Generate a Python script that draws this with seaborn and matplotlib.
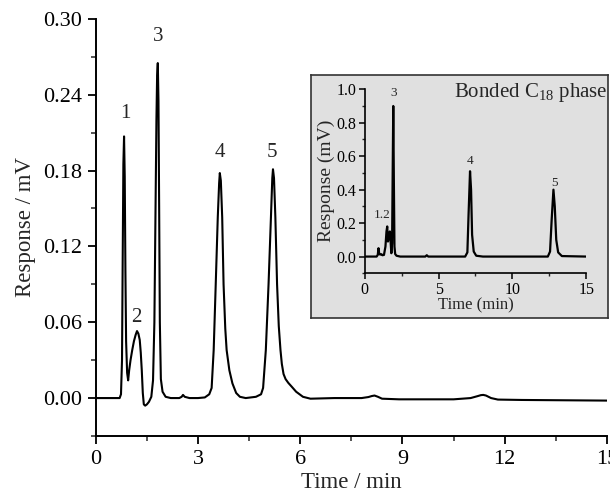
import matplotlib
matplotlib.use("Agg")
import matplotlib.pyplot as plt
import pandas as pd
import seaborn as sns

# main chromatogram (time in min, response in mV)
main_time = [
    0.00, 0.50, 0.70, 0.74, 0.77, 0.79, 0.81, 0.83, 0.85, 0.87, 0.89, 0.92, 0.95,
    0.98, 1.02, 1.07, 1.12, 1.17, 1.21, 1.25, 1.29, 1.32, 1.35, 1.38, 1.41, 1.45,
    1.50, 1.56, 1.63, 1.68, 1.72, 1.75, 1.78, 1.80, 1.82, 1.84, 1.86, 1.88, 1.91,
    1.96, 2.05, 2.20, 2.45, 2.52, 2.56, 2.61, 2.75, 3.00, 3.20, 3.33, 3.40, 3.46,
    3.52, 3.58, 3.62, 3.64, 3.67, 3.71, 3.75, 3.80, 3.84, 3.92, 4.01, 4.12, 4.23,
    4.40, 4.70, 4.85, 4.91, 4.99, 5.07, 5.14, 5.18, 5.20, 5.23, 5.27, 5.32, 5.37,
    5.42, 5.46, 5.51, 5.57, 5.65, 5.75, 5.88, 6.08, 6.30, 7.00, 7.80, 8.00, 8.10,
    8.18, 8.28, 8.40, 8.90, 10.50, 11.00, 11.20, 11.30, 11.37, 11.45, 11.60, 11.80,
    12.50, 15.00,
]
main_resp = [
    0.000, 0.000, 0.000, 0.003, 0.030, 0.110, 0.185, 0.207, 0.175, 0.100, 0.045, 0.020, 0.014,
    0.022, 0.030, 0.038, 0.045, 0.050, 0.053, 0.051, 0.046, 0.036, 0.022, 0.004, -0.005, -0.006,
    -0.005, -0.003, 0.001, 0.014, 0.060, 0.140, 0.220, 0.255, 0.265, 0.235, 0.150, 0.060, 0.015,
    0.005, 0.001, 0.000, 0.000, 0.001, 0.0025, 0.001, 0.000, 0.000, 0.0005, 0.003, 0.008, 0.038,
    0.090, 0.143, 0.170, 0.178, 0.172, 0.143, 0.090, 0.055, 0.038, 0.022, 0.0116, 0.004, 0.001,
    0.000, 0.001, 0.003, 0.008, 0.038, 0.090, 0.143, 0.174, 0.181, 0.174, 0.143, 0.090, 0.057,
    0.038, 0.027, 0.019, 0.015, 0.012, 0.009, 0.005, 0.001, -0.0005, 0.000, 0.000, 0.0008, 0.0016,
    0.002, 0.001, -0.0005, -0.001, -0.001, 0.000, 0.0015, 0.0023, 0.0025, 0.002, 0.000, -0.0012,
    -0.0015, -0.002,
]

# inset chromatogram (bonded C18 phase)
inset_time = [
    0.00, 0.80, 0.88, 0.93, 0.98, 1.05, 1.13, 1.20, 1.30, 1.40, 1.47, 1.52, 1.57,
    1.62, 1.70, 1.75, 1.80, 1.85, 1.89, 1.93, 1.97, 2.01, 2.06, 2.15, 2.40, 4.10,
    4.20, 4.30, 6.80, 6.95, 7.03, 7.13, 7.20, 7.27, 7.38, 7.55, 8.00, 12.40, 12.55,
    12.66, 12.78, 12.87, 12.97, 13.10, 13.35, 15.00,
]
inset_resp = [
    0.00, 0.00, 0.01, 0.05, 0.015, 0.012, 0.014, 0.008, 0.010, 0.060, 0.150, 0.180, 0.090,
    0.110, 0.150, 0.090, 0.020, 0.080, 0.500, 0.900, 0.450, 0.060, 0.015, 0.005, 0.000, 0.000,
    0.008, 0.000, 0.000, 0.025, 0.250, 0.510, 0.400, 0.130, 0.030, 0.005, 0.000, 0.000, 0.030,
    0.220, 0.400, 0.300, 0.100, 0.025, 0.003, 0.000,
]

main_peak_labels = ["1", "2", "3", "4", "5"]
main_label_time = [0.87, 1.19, 1.83, 3.64, 5.16]
main_label_resp = [0.225, 0.064, 0.286, 0.194, 0.194]

inset_peak_labels = ["1.2", "3", "4", "5"]
inset_label_time = [1.15, 1.98, 7.15, 12.85]
inset_label_resp = [0.25, 0.98, 0.57, 0.44]

sns.set_theme(style="ticks")
plt.rcParams["font.family"] = ["Liberation Serif", "DejaVu Serif"]
plt.rcParams["mathtext.fontset"] = "custom"
plt.rcParams["mathtext.rm"] = "Liberation Serif"

fig = plt.figure(figsize=(6.1, 4.96), dpi=100)
ax = fig.add_axes([0.157, 0.121, 0.838, 0.841])

main_df = pd.DataFrame({"time": main_time, "resp": main_resp})
sns.lineplot(data=main_df, x="time", y="resp", ax=ax, color="black",
             linewidth=1.5, estimator=None, sort=False)
ax.set_xlim(0, 15)
ax.set_ylim(-0.03, 0.30)
ax.set_xticks([0, 3, 6, 9, 12, 15])
ax.set_xticks([1.5, 4.5, 7.5, 10.5, 13.5], minor=True)
ax.set_yticks([0.0, 0.06, 0.12, 0.18, 0.24, 0.30])
ax.set_yticks([-0.03, 0.03, 0.09, 0.15, 0.21, 0.27], minor=True)
ax.set_yticklabels([f"{v:.2f}" for v in [0.0, 0.06, 0.12, 0.18, 0.24, 0.30]])
ax.tick_params(which="major", direction="out", length=6, width=1.3,
               labelsize=16, colors="black", pad=4)
ax.tick_params(which="minor", direction="out", length=3.5, width=1.1)
for side in ["left", "bottom"]:
    ax.spines[side].set_linewidth(1.4)
    ax.spines[side].set_color("black")
sns.despine(ax=ax)
ax.set_xlabel("Time / min", fontsize=16.5, labelpad=2)
ax.set_ylabel("Response / mV", fontsize=16.5, labelpad=5)
for lab, t, r in zip(main_peak_labels, main_label_time, main_label_resp):
    ax.text(t, r, lab, fontsize=15, ha="center", va="center")

# grey panel behind the inset
panel = fig.add_axes([0.51, 0.359, 0.487, 0.49], zorder=2)
panel.set_facecolor("#e0e0e0")
panel.set_xticks([])
panel.set_yticks([])
for sp in panel.spines.values():
    sp.set_visible(True)
    sp.set_linewidth(1.2)
    sp.set_color("#333333")

ins = fig.add_axes([0.598, 0.449, 0.363, 0.371], zorder=3)
ins.patch.set_alpha(0)
inset_df = pd.DataFrame({"time": inset_time, "resp": inset_resp})
sns.lineplot(data=inset_df, x="time", y="resp", ax=ins, color="black",
             linewidth=1.6, estimator=None, sort=False)
ins.set_xlim(0, 15)
ins.set_ylim(-0.1, 1.0)
ins.set_xticks([0, 5, 10, 15])
ins.set_xticks([2.5, 7.5, 12.5], minor=True)
ins.set_yticks([0.0, 0.2, 0.4, 0.6, 0.8, 1.0])
ins.set_yticks([-0.1, 0.1, 0.3, 0.5, 0.7, 0.9], minor=True)
ins.set_yticklabels([f"{v:.1f}" for v in [0.0, 0.2, 0.4, 0.6, 0.8, 1.0]])
ins.tick_params(which="major", direction="out", length=4, width=1.1,
                labelsize=11.5, pad=2, colors="black")
ins.tick_params(which="minor", direction="out", length=2.5, width=1.0)
for side in ["left", "bottom"]:
    ins.spines[side].set_linewidth(1.2)
    ins.spines[side].set_color("black")
sns.despine(ax=ins)
ins.set_xlabel("Time (min)", fontsize=12, labelpad=0)
ins.set_ylabel("Response (mV)", fontsize=14, labelpad=1)
for lab, t, r in zip(inset_peak_labels, inset_label_time, inset_label_resp):
    ins.text(t, r, lab, fontsize=9.5, ha="center", va="center")
ins.text(1.095, 0.985, r"Bonded C$_{\mathregular{18}}$ phase", transform=ins.transAxes,
         fontsize=15, ha="right", va="center")

fig.savefig("out.png", dpi=100)
